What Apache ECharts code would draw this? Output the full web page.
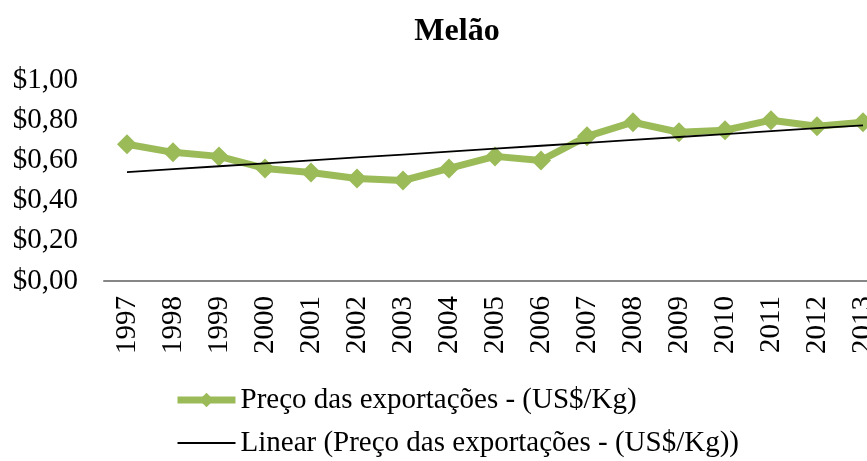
<!DOCTYPE html>
<html>
<head>
<meta charset="utf-8">
<script src="https://cdn.jsdelivr.net/npm/echarts@6/dist/echarts.min.js"></script>
<style>html,body{margin:0;padding:0;background:#fff;overflow:hidden}#c{width:886px;height:461px}</style>
</head>
<body>
<div id="c"></div>
<script>
const title = 'Melão';
const years = ['1997','1998','1999','2000','2001','2002','2003','2004','2005','2006','2007','2008','2009','2010','2011','2012','2013'];
const prices = [0.68,0.64,0.62,0.56,0.54,0.51,0.50,0.56,0.62,0.60,0.72,0.79,0.74,0.75,0.80,0.77,0.79];
const seriesName = 'Preço das exportações - (US$/Kg)';
const trendName = 'Linear (Preço das exportações - (US$/Kg))';

// least-squares linear trendline from the data
const n = prices.length;
const mx = (n - 1) / 2;
const my = prices.reduce((a, b) => a + b, 0) / n;
let sxy = 0, sxx = 0;
prices.forEach((y, i) => { sxy += (i - mx) * (y - my); sxx += (i - mx) * (i - mx); });
const slope = sxy / sxx;
const icpt = my - slope * mx;
const trend = prices.map((_, i) => +(icpt + slope * i).toFixed(4));

const font = '"Liberation Serif", "Times New Roman", serif';
const chart = echarts.init(document.getElementById('c'));
chart.setOption({
  animation: false,
  title: {
    text: title, left: 452, top: 11, textAlign: 'center',
    textStyle: { fontFamily: font, fontSize: 32, fontWeight: 'bold', color: '#000' }
  },
  grid: { left: 104, right: 0, top: 80, height: 201 },
  xAxis: {
    type: 'category', data: years, boundaryGap: true,
    axisLine: { lineStyle: { color: '#868686', width: 2 } },
    axisTick: { show: false },
    axisLabel: { rotate: 90, interval: 0, margin: 15, fontFamily: font, fontSize: 29, color: '#000' }
  },
  yAxis: {
    type: 'value', min: 0, max: 1, interval: 0.2,
    splitLine: { show: false },
    axisLine: { show: false }, axisTick: { show: false },
    axisLabel: {
      margin: 26, fontFamily: font, fontSize: 29, color: '#000',
      formatter: v => '$' + v.toFixed(2).replace('.', ',')
    }
  },
  legend: {
    orient: 'vertical', left: 174, top: 385, itemGap: 13, padding: 0,
    itemWidth: 58, itemHeight: 18,
    textStyle: { fontFamily: font, fontSize: 29, lineHeight: 30, color: '#000' },
    data: [
      { name: seriesName, lineStyle: { width: 7 }, itemStyle: { color: '#9BBB59' } },
      { name: trendName, icon: 'path://M0,0 L58,0 L58,2 L0,2 Z', itemStyle: { color: '#000' } }
    ]
  },
  series: [
    {
      name: seriesName, type: 'line', data: prices,
      symbol: 'diamond', symbolSize: 20,
      lineStyle: { color: '#9BBB59', width: 7 },
      itemStyle: { color: '#9BBB59' },
      z: 2
    },
    {
      name: trendName, type: 'line', data: trend,
      symbol: 'none',
      lineStyle: { color: '#000', width: 1.8 },
      itemStyle: { color: '#000' },
      z: 3
    }
  ]
});
</script>
</body>
</html>
